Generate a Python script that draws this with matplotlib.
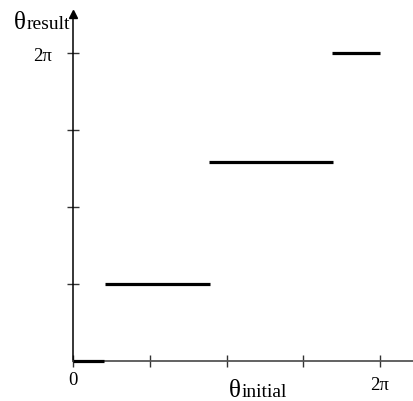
import numpy as np
import matplotlib
matplotlib.use("Agg")
from matplotlib import pyplot as plt
from matplotlib import transforms

# step function: theta_result vs theta_initial (radians)
seg_start = [0.0, 0.65, 2.78, 5.31]
seg_end = [0.63, 2.80, 5.32, 6.283]
seg_level = [0.0, 1.571, 4.05, 6.283]

x_ticks = [0, np.pi / 2, np.pi, 3 * np.pi / 2, 2 * np.pi]
x_ticklabels = ["0", "", "", "", "2\u03c0"]
y_ticks = [np.pi / 2, np.pi, 3 * np.pi / 2, 2 * np.pi]
y_ticklabels = ["", "", "", "2\u03c0"]

W, H = 414, 402
plt.rcParams["font.family"] = ["Liberation Serif", "DejaVu Serif"]

# pixel layout of the reference
x0_px, y0_px = 73.3, 362.0
sx = 306.7 / (2 * np.pi)
sy = 308.0 / (2 * np.pi)

fig = plt.figure(figsize=(W / 100, H / 100), dpi=100)
ax = fig.add_axes([0, 0, 1, 1])
ax.set_xlim(-x0_px / sx, (W - x0_px) / sx)
ax.set_ylim(-(H - y0_px) / sy, y0_px / sy)
ax.patch.set_visible(False)

for s in ["top", "right"]:
    ax.spines[s].set_visible(False)
ax.spines["left"].set_position(("data", 0))
ax.spines["bottom"].set_position(("data", 0))
ax.spines["left"].set_bounds(0, (y0_px - 18) / sy)
ax.spines["bottom"].set_bounds(0, (W - x0_px) / sx)
ax.spines["left"].set_color("black")
ax.spines["left"].set_linewidth(1.1)
ax.spines["bottom"].set_color("#555555")
ax.spines["bottom"].set_linewidth(1.3)

ax.set_xticks(x_ticks)
ax.set_xticklabels(x_ticklabels)
ax.set_yticks(y_ticks)
ax.set_yticklabels(y_ticklabels)
ax.tick_params(axis="x", direction="inout", length=8, width=1, color="#333333",
               labelsize=13.5, pad=3)
ax.tick_params(axis="y", direction="inout", length=9, width=1, color="#333333",
               labelsize=13.5, pad=11)

# the 2pi label on x sits a bit lower than the 0
lab = ax.get_xticklabels()[-1]
lab.set_transform(lab.get_transform()
                  + transforms.ScaledTranslation(0, -5 / 100, fig.dpi_scale_trans))

# arrow head on y axis
ax.plot(0, (y0_px - 15) / sy, marker="^", color="black", markersize=6,
        clip_on=False)

ax.hlines(seg_level, seg_start, seg_end, colors="black", linewidth=2.3, zorder=5)

# axis titles
fig.text(14 / W, 1 - 29 / H, "\u03b8", fontsize=18)
fig.text(27 / W, 1 - 29 / H, "result", fontsize=14)
fig.text(229 / W, 1 - 397 / H, "\u03b8", fontsize=18)
fig.text(242 / W, 1 - 397 / H, "initial", fontsize=14)

fig.savefig("out.png", dpi=100)
